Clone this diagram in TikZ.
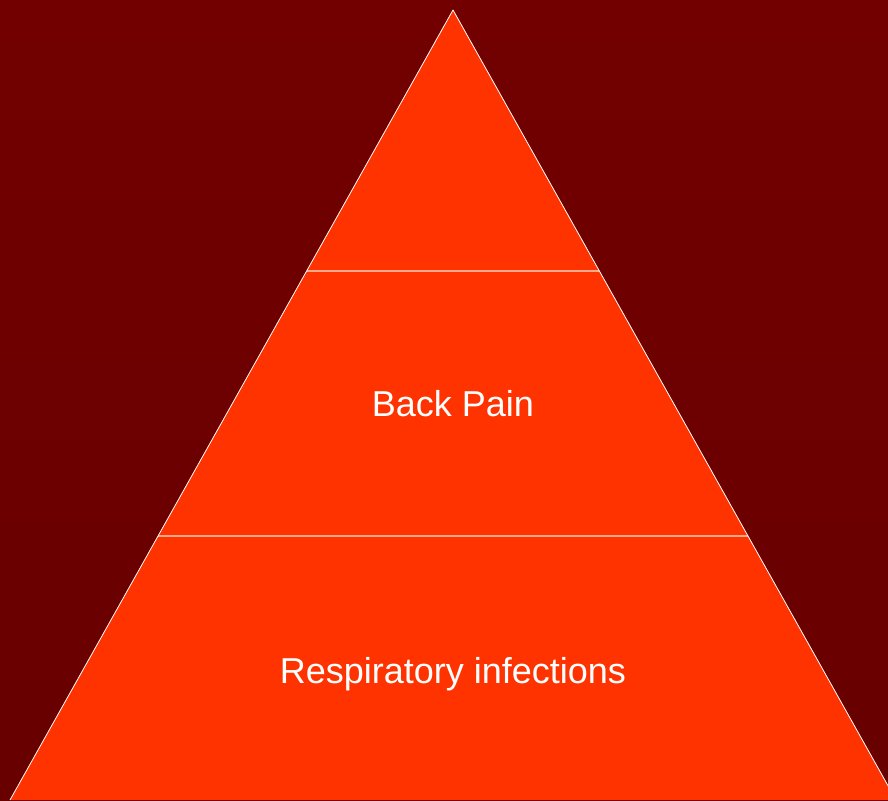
\documentclass[tikz,border=0pt]{standalone}
\usepackage{fontspec}
\setmainfont{Liberation Sans}
\usetikzlibrary{positioning,calc}
\definecolor{Maroon}{HTML}{720000}
\definecolor{MaroonDeep}{HTML}{680000}
\definecolor{Flame}{HTML}{FF3300}
\definecolor{Seam}{HTML}{FFA88C}

\begin{document}
\begin{tikzpicture}[x=1pt,y=1pt,
    tier/.style={anchor=base,text=white,inner sep=0pt,font=\fontsize{36}{40}\selectfont}]
    \useasboundingbox (0,0) rectangle (888,800);
    \clip (0,0) rectangle (888,800);
    \shade[top color=Maroon,bottom color=MaroonDeep] (0,0) rectangle (888,800);
    \coordinate (apex) at (453,790);
    \coordinate (bl) at (10,0);
    \coordinate (br) at (896,0);
    \fill[Flame] (apex) -- (bl) -- (br) -- cycle;
    \draw[Seam,line width=1.5pt] ($(apex)!0.3304!(bl)$) -- ($(apex)!0.3304!(br)$);
    \draw[Seam,line width=1.5pt] ($(apex)!0.6658!(bl)$) -- ($(apex)!0.6658!(br)$);
    \draw[white,line width=0.8pt,line join=round] (bl) -- (apex) -- (br);
    \node[tier] (backpain) at (453,383) {Back Pain};
    \node[tier] (resp) at (453,116) {Respiratory infections};
  \end{tikzpicture}
\end{document}
